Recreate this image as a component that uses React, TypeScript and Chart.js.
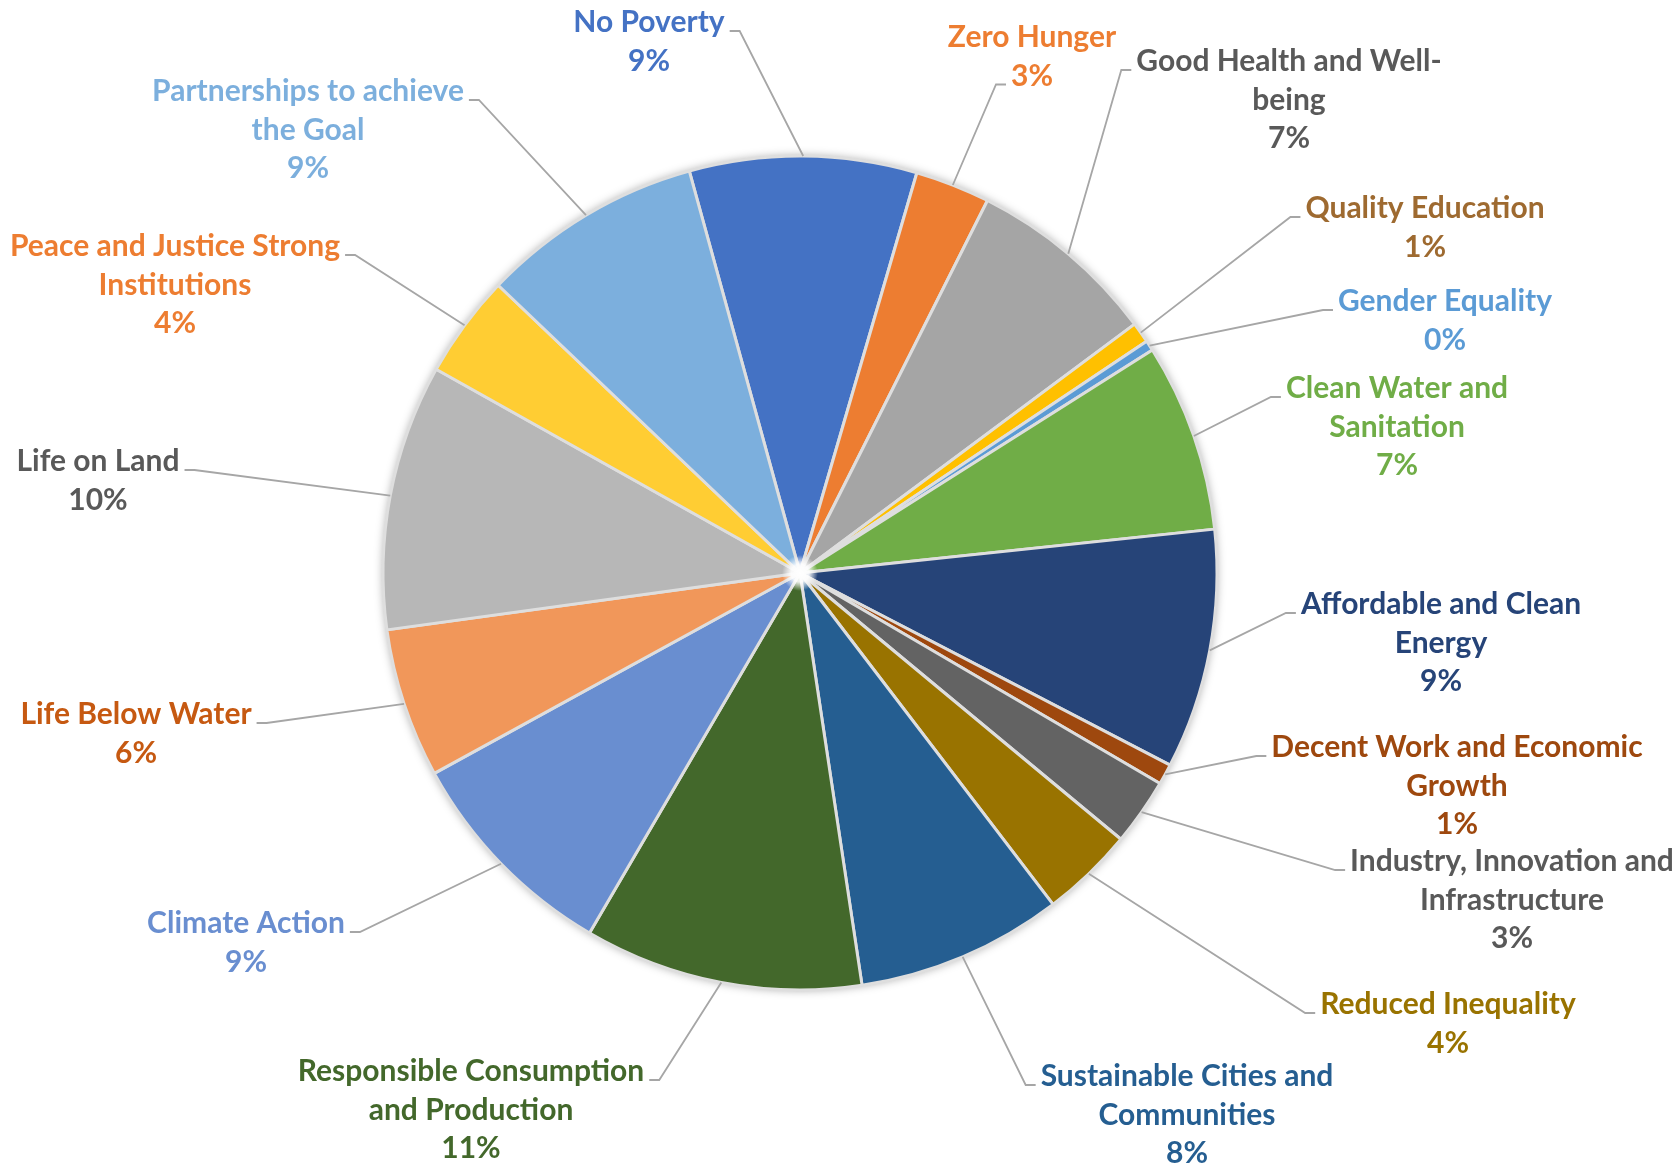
import React, { useEffect, useRef } from "react";
import { Chart, registerables } from "chart.js";

Chart.register(...registerables);

// ---- data ----
const categories: string[] = [
  "No Poverty",
  "Zero Hunger",
  "Good Health and Well-\nbeing",
  "Quality Education",
  "Gender Equality",
  "Clean Water and\nSanitation",
  "Affordable and Clean\nEnergy",
  "Decent Work and Economic\nGrowth",
  "Industry, Innovation and\nInfrastructure",
  "Reduced Inequality",
  "Sustainable Cities and\nCommunities",
  "Responsible Consumption\nand Production",
  "Climate Action",
  "Life Below Water",
  "Life on Land",
  "Peace and Justice Strong\nInstitutions",
  "Partnerships to achieve\nthe Goal",
];

const shares: number[] = [8.8, 2.9, 7.4, 0.8, 0.4, 7.3, 9.3, 0.8, 2.6, 3.6, 8.0, 10.8, 8.6, 5.8, 10.3, 4.0, 8.6];

// ---- styles ----
const sliceColors: string[] = [
  "#4472C4", "#ED7D31", "#A5A5A5", "#FFC000", "#5B9BD5", "#70AD47",
  "#264478", "#9E480E", "#636363", "#997300", "#255E91", "#43682B",
  "#698ED0", "#F1975A", "#B7B7B7", "#FFCD33", "#7CAFDD",
];

const labelColors: string[] = [
  "#4472C4", "#ED7D31", "#595959", "#9E6A30", "#5B9BD5", "#70AD47",
  "#264478", "#9E480E", "#595959", "#997300", "#255E91", "#43682B",
  "#698ED0", "#C65911", "#595959", "#ED7D31", "#7CAFDD",
];

// label block placement: centre x of the block and centre y of its first line, relative to the pie centre
const labelOffsets: number[][] = [
  [-151, -551], [232, -536], [489, -512], [625, -365], [645, -272], [597, -185],
  [641, 31], [657, 174], [712, 288], [648, 431], [387, 503], [-329, 498],
  [-554, 350], [-664, 141], [-702, -112], [-625, -327], [-492, -482],
];
// which text line the leader line attaches to
const attachLine: number[] = [0, 1, 0, 0, 0, 0, 0, 0, 0, 0, 0, 0, 0, 0, 0, 0, 0];

const FONT_SIZE = 30;
const LINE_H = 38.5;
const FONT = `bold ${FONT_SIZE}px Lato, "Open Sans", sans-serif`;

const pieShadow = {
  id: "pieShadow",
  beforeDatasetsDraw(chart: any) {
    const arc: any = chart.getDatasetMeta(0).data[0];
    if (!arc) return;
    const { x, y, outerRadius } = arc;
    const ctx = chart.ctx;
    ctx.save();
    ctx.shadowColor = "rgba(0,0,0,0.35)";
    ctx.shadowBlur = 10;
    ctx.beginPath();
    ctx.arc(x, y, outerRadius, 0, Math.PI * 2);
    ctx.fillStyle = "#ffffff";
    ctx.fill();
    ctx.restore();
  },
};

const outsideLabels = {
  id: "outsideLabels",
  afterDatasetsDraw(chart: any) {
    const ctx = chart.ctx;
    const meta = chart.getDatasetMeta(0);
    const total = shares.reduce((a, b) => a + b, 0);
    ctx.save();
    // soft white centre
    const c0: any = meta.data[0];
    if (c0) {
      const g = ctx.createRadialGradient(c0.x, c0.y, 0, c0.x, c0.y, 18);
      g.addColorStop(0, "rgba(255,255,255,1)");
      g.addColorStop(0.5, "rgba(255,255,255,0.9)");
      g.addColorStop(1, "rgba(255,255,255,0)");
      ctx.fillStyle = g;
      ctx.beginPath();
      ctx.arc(c0.x, c0.y, 18, 0, Math.PI * 2);
      ctx.fill();
    }
    ctx.font = FONT;
    meta.data.forEach((arc: any, i: number) => {
      const { x, y, startAngle, endAngle, outerRadius } = arc;
      const mid = (startAngle + endAngle) / 2;
      const rx = x + Math.cos(mid) * outerRadius;
      const ry = y + Math.sin(mid) * outerRadius;
      const lines = [...categories[i].split("\n"), Math.round((shares[i] / total) * 100) + "%"];
      const cx = x + labelOffsets[i][0];
      const cy0 = y + labelOffsets[i][1];
      const al = attachLine[i];
      const w = ctx.measureText(lines[al]).width;
      const ay = cy0 + al * LINE_H + 9;
      const onLeft = cx > rx;
      const sx = onLeft ? cx - w / 2 - 5 : cx + w / 2 + 5;
      const ex = onLeft ? sx - 10 : sx + 10;
      ctx.strokeStyle = "#A6A6A6";
      ctx.lineWidth = 1.8;
      ctx.beginPath();
      ctx.moveTo(rx, ry);
      ctx.lineTo(ex, ay);
      ctx.lineTo(sx, ay);
      ctx.stroke();
      ctx.fillStyle = labelColors[i];
      ctx.textAlign = "center";
      ctx.textBaseline = "alphabetic";
      lines.forEach((t, k) => ctx.fillText(t, cx, cy0 + k * LINE_H + 10));
    });
    ctx.restore();
  },
};

export default function App() {
  const ref = useRef<HTMLCanvasElement>(null);
  useEffect(() => {
    if (!ref.current) return;
    const chart = new Chart(ref.current, {
      type: "pie",
      data: {
        labels: categories.map((c) => c.replace("\n", " ")),
        datasets: [
          {
            data: shares,
            backgroundColor: sliceColors,
            borderColor: "#DEDEDE",
            borderWidth: 3,
          },
        ],
      },
      options: {
        responsive: false,
        animation: false,
        devicePixelRatio: 1,
        rotation: -15.4,
        radius: 417,
        events: [],
        layout: { padding: { left: 382, right: 460, top: 155, bottom: 176 } },
        plugins: { legend: { display: false }, tooltip: { enabled: false } },
      } as any,
      plugins: [pieShadow, outsideLabels],
    });
    return () => chart.destroy();
  }, []);
  return (
    <div style={{ position: "absolute", left: 0, top: 0, width: 1678, height: 1167, background: "#ffffff" }}>
      <canvas ref={ref} width={1678} height={1167} style={{ display: "block" }} />
    </div>
  );
}
